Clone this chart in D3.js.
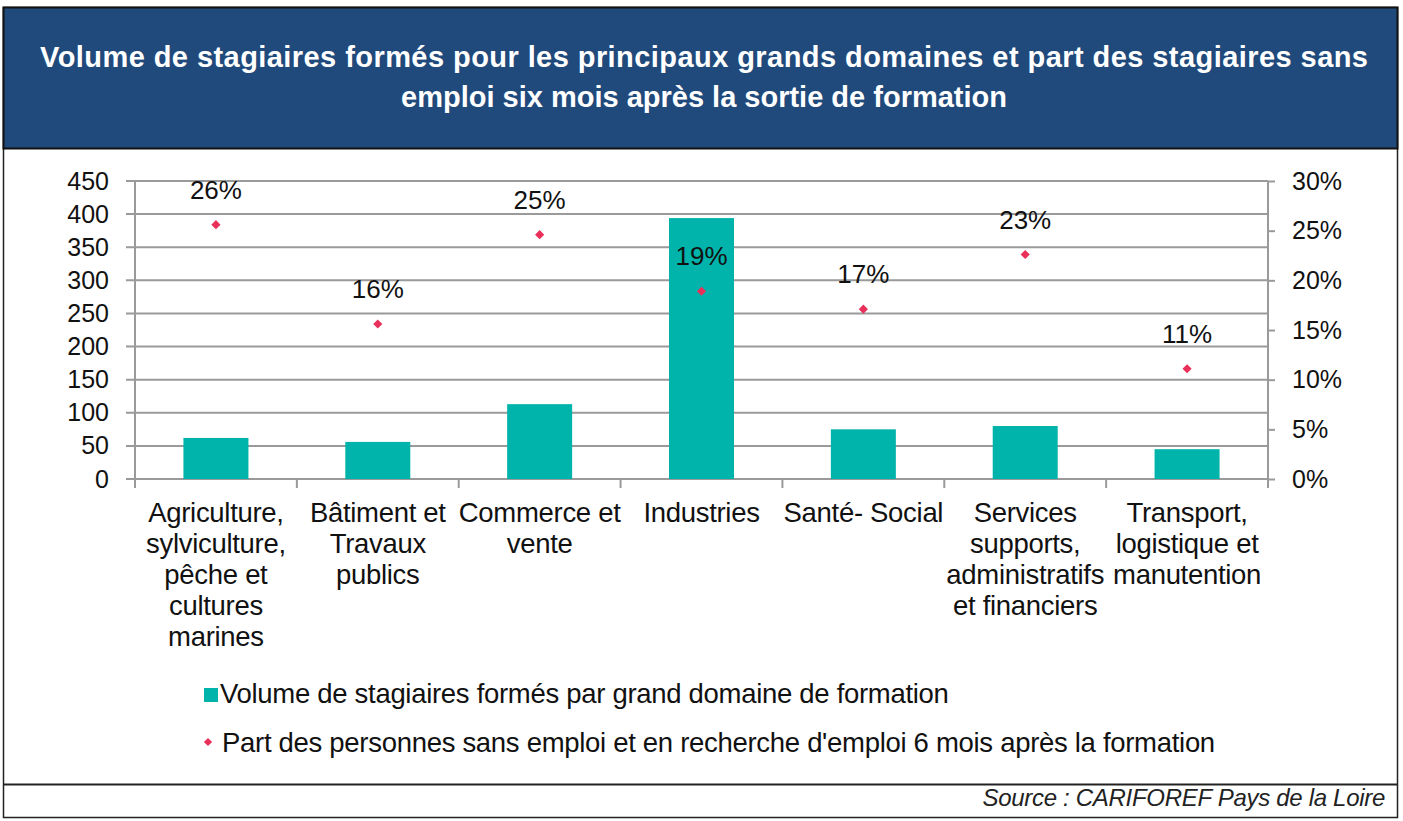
<!DOCTYPE html>
<html>
<head>
<meta charset="utf-8">
<script src="https://cdn.jsdelivr.net/npm/d3@7"></script>
<style>
  body { margin: 0; background: #fff; }
  svg { display: block; font-family: Arial, "Liberation Sans", sans-serif; }
</style>
</head>
<body>
<div id="chart"></div>
<script>
// data
var categories = [
    "Agriculture, sylviculture, pêche et cultures marines",
    "Bâtiment et Travaux publics",
    "Commerce et vente",
    "Industries",
    "Santé- Social",
    "Services supports, administratifs et financiers",
    "Transport, logistique et manutention"
];
var categoryLines = [
    ["Agriculture,", "sylviculture,", "pêche et", "cultures", "marines"],
    ["Bâtiment et", "Travaux", "publics"],
    ["Commerce et", "vente"],
    ["Industries"],
    ["Santé- Social"],
    ["Services", "supports,", "administratifs", "et financiers"],
    ["Transport,", "logistique et", "manutention"]
];
var volumes = [62, 56, 113, 394, 75, 80, 45];
var shares = [0.256, 0.156, 0.246, 0.189, 0.171, 0.226, 0.111];
var leftTicks = [0, 50, 100, 150, 200, 250, 300, 350, 400, 450];
var rightTicks = [0, 0.05, 0.10, 0.15, 0.20, 0.25, 0.30];
var titleLines = [
    "Volume de stagiaires formés pour les principaux grands domaines et part des stagiaires sans",
    "emploi six mois après la sortie de formation"
];
var legendLabels = [
    "Volume de stagiaires formés par grand domaine de formation",
    "Part des personnes sans emploi et en recherche d'emploi 6 mois après la formation"
];
var sourceText = "Source : CARIFOREF Pays de la Loire";

var W = 1403, H = 821;
var teal = "#00b4ab", pink = "#e8305a", grid = "#9a9a9a";

var svg = d3.select("#chart")
    .append("svg")
    .attr("width", W)
    .attr("height", H);

// frame + header
svg.append("rect")
    .attr("x", 3.5).attr("y", 7.5)
    .attr("width", 1394).attr("height", 810)
    .attr("fill", "#fff")
    .attr("stroke", "#222").attr("stroke-width", 1.5);
svg.append("rect")
    .attr("x", 3.5).attr("y", 7.5)
    .attr("width", 1394).attr("height", 141)
    .attr("fill", "#214a7c")
    .attr("stroke", "#111").attr("stroke-width", 2);
svg.append("line")
    .attr("x1", 3).attr("x2", 1398)
    .attr("y1", 784.5).attr("y2", 784.5)
    .attr("stroke", "#222").attr("stroke-width", 2);

svg.selectAll(".title")
    .data(titleLines)
    .enter()
    .append("text")
    .attr("class", "title")
    .attr("x", 704)
    .attr("y", (d, i) => 67 + i * 40)
    .attr("text-anchor", "middle")
    .attr("fill", "#fff")
    .style("font-size", "29px")
    .style("font-weight", "bold")
    .text(d => d);
// first line is justified across the header
svg.select(".title").attr("textLength", 1328).attr("lengthAdjust", "spacing");

// plot area
var margin = {top: 181, left: 135, right: 1268, bottom: 479};

var x = d3.scaleBand()
    .domain(categories)
    .range([margin.left, margin.right])
    .paddingInner(0)
    .paddingOuter(0);

var yL = d3.scaleLinear().domain([0, 450]).range([margin.bottom, margin.top]);
var yR = d3.scaleLinear().domain([0, 0.30]).range([margin.bottom, margin.top]);

// gridlines
svg.append("g")
    .selectAll("line")
    .data(leftTicks)
    .enter()
    .append("line")
    .attr("x1", margin.left - 9)
    .attr("x2", margin.right)
    .attr("y1", d => yL(d))
    .attr("y2", d => yL(d))
    .attr("stroke", grid)
    .attr("stroke-width", 2);

// left axis
var axisL = svg.append("g")
    .attr("transform", "translate(" + margin.left + ",0)")
    .call(d3.axisLeft(yL).tickValues(leftTicks).tickSize(0).tickPadding(26));
axisL.select(".domain").attr("stroke", grid).attr("stroke-width", 2)
    .attr("d", "M0," + margin.top + "V" + (margin.bottom + 9));
axisL.selectAll("text")
    .style("font-size", "25px")
    .attr("fill", "#111");

// right axis
var axisR = svg.append("g")
    .attr("transform", "translate(" + margin.right + ",0)")
    .call(d3.axisRight(yR).tickValues(rightTicks).tickSize(7).tickPadding(17)
        .tickFormat(d3.format(".0%")));
axisR.select(".domain").attr("d", "M0," + margin.top + "V" + (margin.bottom + 9))
    .attr("stroke", grid).attr("stroke-width", 2);
axisR.selectAll(".tick line").attr("stroke", grid).attr("stroke-width", 2);
axisR.selectAll("text")
    .style("font-size", "25px")
    .attr("fill", "#111");

// category tick marks
svg.append("g")
    .selectAll("line")
    .data(categories.slice(1))
    .enter()
    .append("line")
    .attr("x1", d => x(d))
    .attr("x2", d => x(d))
    .attr("y1", margin.bottom)
    .attr("y2", margin.bottom + 9)
    .attr("stroke", grid)
    .attr("stroke-width", 2);

// category labels
var catLabel = svg.append("g")
    .selectAll("text")
    .data(categories)
    .enter()
    .append("text")
    .attr("text-anchor", "middle")
    .style("font-size", "27.5px")
    .style("letter-spacing", "-0.3px")
    .attr("fill", "#111");
catLabel.each(function (d, i) {
    var t = d3.select(this);
    categoryLines[i].forEach(function (line, j) {
        t.append("tspan")
            .attr("x", x(d) + x.bandwidth() / 2)
            .attr("y", 522 + j * 31)
            .text(line);
    });
});

// bars
var barW = 65;
svg.append("g")
    .selectAll("rect")
    .data(volumes)
    .enter()
    .append("rect")
    .attr("x", (d, i) => x(categories[i]) + x.bandwidth() / 2 - barW / 2)
    .attr("y", d => yL(d))
    .attr("width", barW)
    .attr("height", d => yL(0) - yL(d))
    .attr("fill", teal);

// points (square turned 45deg, like the excel marker)
var marker = d3.symbol().type(d3.symbolSquare).size(42);
svg.append("g")
    .selectAll("path")
    .data(shares)
    .enter()
    .append("path")
    .attr("d", marker)
    .attr("transform", (d, i) => "translate(" + (x(categories[i]) + x.bandwidth() / 2) + "," + yR(d) + ") rotate(45)")
    .attr("fill", pink);

svg.append("g")
    .selectAll("text")
    .data(shares)
    .enter()
    .append("text")
    .attr("x", (d, i) => x(categories[i]) + x.bandwidth() / 2)
    .attr("y", d => yR(d) - 26)
    .attr("text-anchor", "middle")
    .style("font-size", "26px")
    .attr("fill", "#111")
    .text(d => d3.format(".0%")(d));

// legend
var legend = svg.append("g");
legend.append("rect")
    .attr("x", 204).attr("y", 688)
    .attr("width", 14).attr("height", 14)
    .attr("fill", teal);
legend.append("path")
    .attr("d", d3.symbol().type(d3.symbolSquare).size(34))
    .attr("transform", "translate(208,742) rotate(45)")
    .attr("fill", pink);
legend.selectAll("text")
    .data(legendLabels)
    .enter()
    .append("text")
    .attr("x", (d, i) => i === 0 ? 220 : 222)
    .attr("y", (d, i) => 703 + i * 49)
    .style("font-size", "27.5px")
    .style("letter-spacing", "-0.3px")
    .attr("fill", "#111")
    .text(d => d);

// source
svg.append("text")
    .attr("x", 1385)
    .attr("y", 806)
    .attr("text-anchor", "end")
    .style("font-size", "24px")
    .style("font-style", "italic")
    .style("letter-spacing", "-0.3px")
    .attr("fill", "#222")
    .text(sourceText);
</script>
</body>
</html>
